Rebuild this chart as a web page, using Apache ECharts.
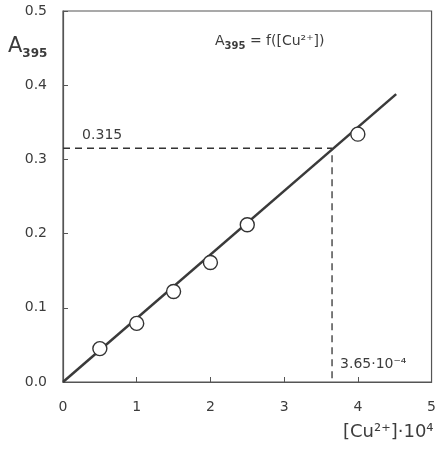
<!DOCTYPE html>
<html>
<head>
<meta charset="utf-8">
<script src="https://cdn.jsdelivr.net/npm/echarts@6/dist/echarts.min.js"></script>
<style>html,body{margin:0;padding:0;background:#fff}#c{width:439px;height:460px}</style>
</head>
<body>
<div id="c"></div>
<script>
// Data
var xTicks = [0, 1, 2, 3, 4, 5];
var yTicks = [0.0, 0.1, 0.2, 0.3, 0.4, 0.5];
var concX = [0.5, 1.0, 1.5, 2.0, 2.5, 4.0];
var absY = [0.045, 0.079, 0.122, 0.161, 0.212, 0.334];
var fitX = [0, 4.52];
var fitY = [0, 0.388];
var readX = 3.65;
var readY = 0.315;
var readYLabel = '0.315';
var readXLabel = '3.65·10⁻⁴';

var font = 'DejaVu Sans';
var ink = '#3c3c3c';

var chart = echarts.init(document.getElementById('c'), null, {renderer: 'canvas'});
var points = concX.map(function (x, i) { return [x, absY[i]]; });
var fit = fitX.map(function (x, i) { return [x, fitY[i]]; });
var guide = [[xTicks[0], readY], [readX, readY], [readX, yTicks[0]]];

chart.setOption({
  animation: false,
  backgroundColor: '#fff',
  grid: {left: 63, top: 11, right: 1, bottom: 78, show: true, borderColor: '#555', borderWidth: 1.2, backgroundColor: 'transparent'},
  xAxis: {
    type: 'value', min: xTicks[0], max: xTicks[xTicks.length - 1], interval: 1,
    axisLine: {show: true, onZero: false, lineStyle: {color: '#555', width: 1.2}},
    axisTick: {show: true, inside: true, length: 5, lineStyle: {color: '#555'}},
    axisLabel: {margin: 18, fontFamily: font, fontSize: 14, color: ink},
    splitLine: {show: false}
  },
  yAxis: {
    type: 'value', min: yTicks[0], max: yTicks[yTicks.length - 1], interval: 0.1,
    axisLine: {show: true, onZero: false, lineStyle: {color: '#555', width: 1.2}},
    axisTick: {show: true, inside: true, length: 5, lineStyle: {color: '#555'}},
    axisLabel: {margin: 16, fontFamily: font, fontSize: 14, color: ink, formatter: function (v) { return v.toFixed(1); }},
    splitLine: {show: false}
  },
  series: [
    {type: 'line', data: guide, symbol: 'none', lineStyle: {color: '#333', width: 1.3, type: [7, 5]}, z: 2},
    {type: 'line', data: fit, symbol: 'none', lineStyle: {color: '#3a3a3a', width: 2.5}, z: 3},
    {type: 'scatter', data: points, symbol: 'circle', symbolSize: 14,
     itemStyle: {color: '#fff', borderColor: '#333', borderWidth: 1.4, opacity: 1}, z: 4}
  ]
});

var pY = chart.convertToPixel({gridIndex: 0}, [0.3, readY]);
var pX = chart.convertToPixel({gridIndex: 0}, [readX, 0]);

chart.setOption({
  graphic: [
    {type: 'text', left: 8, top: 36, style: {
      rich: {a: {fontFamily: font, fontSize: 21, fill: ink}, s: {fontFamily: font, fontSize: 12, fontWeight: 'bold', fill: ink, padding: [14, 0, 0, 0]}},
      text: '{a|A}{s|395}'}},
    {type: 'text', left: 215, top: 34, style: {
      rich: {a: {fontFamily: font, fontSize: 14, fill: ink}, s: {fontFamily: font, fontSize: 10, fontWeight: 'bold', fill: ink, padding: [10, 0, 0, 0]}},
      text: '{a|A}{s|395}{a| = f([Cu²⁺])}'}},
    {type: 'text', x: pY[0] - 3, y: pY[1] - 20, style: {text: readYLabel, fontFamily: font, fontSize: 14, fill: ink}},
    {type: 'text', x: pX[0] + 8, y: pX[1] - 25, style: {text: readXLabel, fontFamily: font, fontSize: 14, fill: ink}},
    {type: 'text', left: 343, top: 423, style: {text: '[Cu²⁺]·10⁴', fontFamily: font, fontSize: 18, fill: ink}}
  ]
});
</script>
</body>
</html>
